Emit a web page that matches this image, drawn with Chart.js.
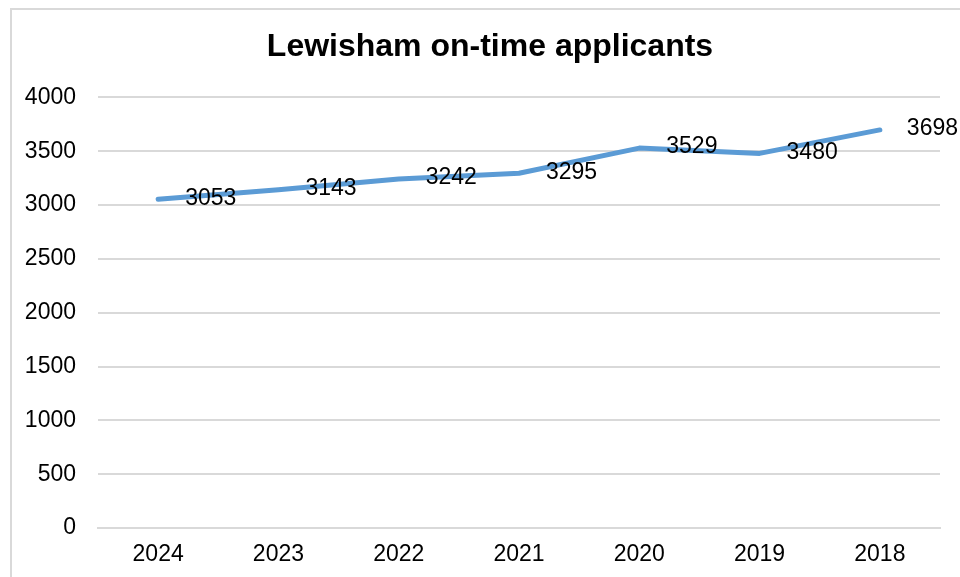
<!DOCTYPE html>
<html>
<head>
<meta charset="utf-8">
<script src="https://cdn.jsdelivr.net/npm/chart.js@4/dist/chart.umd.min.js"></script>
<style>
  html, body { margin: 0; padding: 0; background: #fff; overflow: hidden; width: 960px; height: 577px; }
  #frame { position: absolute; left: 10px; top: 8px; width: 1000px; height: 1000px; border: 2px solid #d9d9d9; box-sizing: border-box; }
  #c { position: absolute; left: 0; top: 0; }
</style>
</head>
<body>
<div id="frame"></div>
<canvas id="c" width="960" height="577"></canvas>
<script>
const titleText = "Lewisham on-time applicants";
const categories = ["2024", "2023", "2022", "2021", "2020", "2019", "2018"];
const applicants = [3053, 3143, 3242, 3295, 3529, 3480, 3698];
const yMin = 0, yMax = 4000, yStep = 500;

const FONT = '"Liberation Sans", Arial, Helvetica, sans-serif';

const dataLabels = {
  id: 'dataLabels',
  afterDatasetsDraw(chart) {
    const ctx = chart.ctx;
    const meta = chart.getDatasetMeta(0);
    const values = chart.data.datasets[0].data;
    ctx.save();
    ctx.font = '23px ' + FONT;
    ctx.fillStyle = '#000';
    ctx.textAlign = 'left';
    ctx.textBaseline = 'middle';
    meta.data.forEach((pt, i) => {
      ctx.fillText(String(values[i]), pt.x + 27, pt.y - 1);
    });
    ctx.restore();
  }
};

const titleShift = {
  id: 'titleShift',
  afterLayout(chart) {
    const box = (chart.boxes || []).find(b => b.options && b.options.text === titleText);
    if (box) {
      box.left += 20;
      box.right += 20;
    }
  }
};

new Chart(document.getElementById('c'), {
  type: 'line',
  data: {
    labels: categories,
    datasets: [{
      data: applicants,
      borderColor: '#5b9bd5',
      borderWidth: 5,
      borderCapStyle: 'round',
      borderJoinStyle: 'round',
      pointRadius: 0,
      pointHoverRadius: 0,
      tension: 0,
      fill: false
    }]
  },
  options: {
    responsive: false,
    devicePixelRatio: 1,
    animation: false,
    layout: { padding: { left: 0, right: 20, top: 0, bottom: 8 } },
    plugins: {
      legend: { display: false },
      tooltip: { enabled: false },
      title: {
        display: true,
        text: titleText,
        color: '#000',
        font: { family: FONT, size: 32, weight: 'bold', lineHeight: 1.2 },
        padding: { top: 28, bottom: 31 }
      }
    },
    scales: {
      x: {
        offset: true,
        afterFit(scale) { scale.height = 41; },
        grid: { display: false, drawTicks: false },
        border: { display: true, color: '#d9d9d9', width: 2 },
        ticks: { color: '#000', padding: 13, font: { family: FONT, size: 23, lineHeight: 1.2 }, maxRotation: 0 }
      },
      y: {
        min: yMin,
        max: yMax,
        afterFit(scale) { scale.width = 98; },
        grid: { color: '#d9d9d9', lineWidth: 2, drawTicks: false },
        border: { display: false },
        ticks: {
          stepSize: yStep, color: '#000', padding: 22,
          font: { family: FONT, size: 23, lineHeight: 1.2 },
          callback: (v) => String(v)
        }
      }
    }
  },
  plugins: [dataLabels, titleShift]
});
</script>
</body>
</html>
